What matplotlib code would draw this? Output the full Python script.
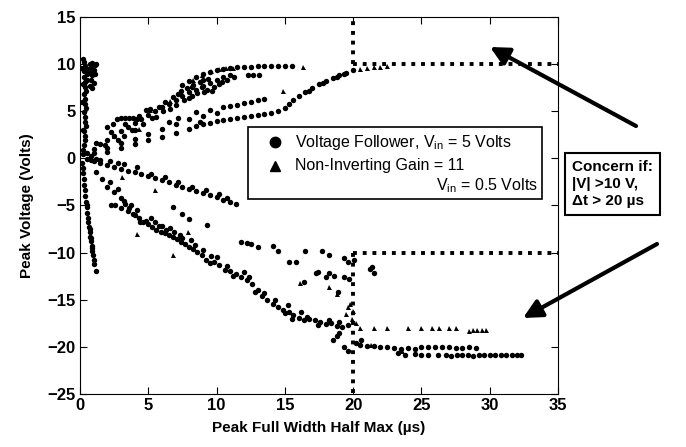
import matplotlib
matplotlib.use('Agg')
import matplotlib.pyplot as plt
from matplotlib.patches import Rectangle

plt.rcParams['font.family'] = ['Liberation Sans', 'DejaVu Sans']

# Voltage follower (circles): (fwhm us, peak volts)
vf_x = [0.2, 0.3, 0.4, 0.3, 0.5, 0.3, 0.4, 0.35, 0.45, 0.3, 0.4, 0.35, 0.45, 0.3, 0.4, 0.35, 0.45, 0.3, 0.4, 0.35, 0.3, 0.25, 0.2,
        0.7, 0.9, 1.1, 0.8, 1.0, 0.7, 0.9, 1.1, 0.8, 1.0, 0.7, 0.9, 1.2,
        0.15, 0.2, 0.25, 0.3, 0.3, 0.35, 0.4, 0.45, 0.5, 0.55, 0.6, 0.6, 0.65, 0.7, 0.75, 0.8, 0.85, 0.9, 0.95, 1.0, 1.05, 1.2, 0.5, 0.7, 0.8, 0.9,
        0.5, 1, 1.5, 2, 2.5, 3, 3.5, 4, 4.5, 5, 5.5, 6, 6.5, 7, 7.5, 8, 8.5, 9, 9.5, 10, 10.5, 11, 7.8, 8.3, 8.8, 9.3, 9.8, 7.2, 6.8, 7.6, 8.2, 9.1, 10.2, 6.2, 5.8, 4.8, 5.3,
        7.5, 8, 8.5, 9, 9.5, 10, 10.5, 11, 11.5, 12, 12.5, 13, 13.5, 14, 14.5, 15, 15.5, 12.3, 12.7, 13.1,
        2.7, 3.0, 3.3, 3.6, 3.9, 4.2, 2.0, 2.4, 3.2, 4.0,
        1, 2, 3, 4, 5, 6, 7, 8, 8.5, 9, 9.5, 10, 10.5, 11, 11.5, 12, 12.5, 13, 13.5, 6.5, 7.2, 8.8,
        0.8, 2, 3, 4, 5, 6, 7, 8, 8.5, 9, 9.5, 10, 10.5, 11, 11.5, 12, 12.5, 13, 13.5, 14, 14.5, 15, 15.3, 15.6, 16, 16.5, 17, 17.5, 18, 18.5, 19, 19.5, 20, 16.8, 17.8, 18.8, 19.3,
        0.5, 1, 1.5, 2, 2.5, 3, 3.5, 4, 4.5, 5, 5.5, 6, 6.5, 7, 7.5, 8, 8.5, 9, 9.5, 10, 10.5, 11, 11.4, 1.2, 2.2, 3.2, 4.2, 0.8,
        1.2, 1.6, 2.0, 2.2, 2.5, 2.8, 3.0, 3.3, 3.6, 3.9, 2.3, 2.6, 3.0, 3.5, 4.0, 4.3, 4.6, 4.8, 5.0, 5.3, 5.6, 5.9, 6.2, 6.5, 6.8, 7.1, 7.4, 7.7, 8.0, 8.3, 8.6, 8.9, 9.2, 9.5, 9.8,
        10.2, 10.6, 11.0, 11.4, 11.8, 12.2, 12.6, 13.0, 13.3, 13.7, 14.1, 14.5, 14.9, 15.3, 15.6, 16.0, 16.4, 16.8, 17.2, 17.6, 18.0, 18.4, 18.8, 19.2, 19.6,
        5.5, 6.0, 6.6, 7.3, 8.1, 10.0, 10.8, 12.0, 15.2, 15.5, 16.2, 12.8,
        20.5, 21, 21.5, 22, 22.5, 23, 23.5, 24, 24.5, 25, 25.5, 26, 26.5, 27, 27.5, 28, 28.5, 29, 23.3, 23.8,
        24.5, 25, 25.5, 26.2, 26.8, 27.2, 27.6, 28, 28.4, 28.8, 29.2, 29.6, 30.0, 30.4, 30.8, 31.2, 31.6, 32.0, 32.3,
        18.5, 18.8, 19.0, 19.3, 19.6, 20.2, 20.6,
        11.8, 12.2, 12.5, 13.0, 14.1, 14.5, 16.5, 17.7, 18.2, 15.3, 15.8, 17.4, 18.2, 18.6, 19.3, 19.7, 19.6, 19.3, 20.1, 21.2, 21.4, 21.5, 17.3, 18.0, 16.4, 18.9, 6.8, 7.5, 8.0, 9.3]
vf_y = [10.5, 10.2, 9.8, 9.3, 9.0, 8.6, 8.1, 7.6, 7.2, 6.8, 6.3, 5.8, 5.3, 4.9, 4.4, 3.9, 3.4, 2.9, 2.4, 1.9, 1.4, 0.9, 0.5,
        10.0, 10.1, 9.9, 9.6, 9.4, 9.1, 8.8, 9.0, 8.3, 8.0, 7.7, 7.5, 10.0,
        -0.5, -1.0, -1.6, -2.2, -2.8, -3.4, -4.0, -4.6, -5.2, -5.8, -6.3, -6.8, -7.3, -7.8, -8.3, -8.8, -9.3, -9.8, -10.3, -10.8, -11.2, -11.9, -4.9, -7.5, -8.5, -9.5,
        0.6, 1.0, 1.5, 2.0, 2.4, 2.9, 3.3, 3.8, 4.2, 4.6, 5.0, 5.4, 5.8, 6.2, 6.6, 7.0, 7.3, 7.7, 8.0, 8.3, 8.6, 8.8, 7.5, 7.8, 8.1, 7.3, 7.6, 6.8, 6.5, 6.2, 6.6, 7.0, 7.9, 6.0, 5.5, 5.1, 4.3,
        7.8, 8.2, 8.6, 9.0, 9.2, 9.4, 9.5, 9.6, 9.65, 9.7, 9.7, 9.75, 9.75, 9.8, 9.8, 9.8, 9.75, 8.8, 8.8, 8.8,
        4.2, 4.25, 4.25, 4.3, 4.25, 4.2, 3.3, 3.6, 2.4, 3.0,
        0.6, 1.1, 1.6, 2.1, 2.6, 3.1, 3.6, 4.2, 4.9, 4.5, 5.1, 4.8, 5.4, 5.6, 5.7, 5.9, 6.0, 6.2, 6.3, 3.9, 4.3, 3.9,
        0.2, 0.7, 1.1, 1.5, 1.9, 2.3, 2.7, 3.1, 3.4, 3.6, 3.8, 4.0, 4.1, 4.2, 4.3, 4.4, 4.5, 4.6, 4.7, 4.8, 5.0, 5.3, 5.8, 6.2, 6.6, 7.0, 7.5, 7.9, 8.2, 8.5, 8.8, 9.1, 9.4, 7.1, 8.0, 8.6, 9.0,
        -0.1, -0.3, -0.5, -0.7, -0.9, -1.1, -1.3, -1.5, -1.7, -1.9, -2.1, -2.3, -2.5, -2.8, -3.0, -3.3, -3.5, -3.7, -3.9, -4.1, -4.4, -4.6, -4.8, -0.1, -0.3, -0.6, -0.9, -0.2,
        -1.5, -2.2, -3.0, -2.5, -3.6, -3.2, -4.2, -4.8, -5.3, -5.9, -4.9, -5.0, -5.3, -5.6, -6.0, -6.3, -6.8, -6.6, -7.0, -7.3, -7.6, -7.8, -7.9, -8.1, -8.3, -8.6, -8.9, -9.1, -9.4, -9.6, -9.9, -10.3, -10.8, -11.1, -11.0,
        -11.3, -11.8, -12.0, -12.3, -12.6, -12.9, -13.3, -14.0, -14.6, -15.0, -15.4, -15.8, -16.1, -16.3, -16.6, -16.9, -17.1, -17.0, -17.2, -17.4, -17.6, -17.5, -17.8, -17.9, -17.7,
        -6.8, -7.2, -7.4, -8.1, -8.7, -10.5, -11.4, -12.1, -15.6, -17.0, -16.3, -14.2,
        -19.8, -19.9, -19.9, -20.0, -20.0, -20.1, -20.2, -20.1, -20.2, -20.0, -20.0, -20.0, -20.0, -20.0, -20.1, -20.1, -20.0, -20.1, -20.6, -20.9,
        -20.8, -20.9, -20.85, -20.9, -20.9, -20.95, -20.9, -20.9, -20.9, -20.95, -20.9, -20.9, -20.9, -20.9, -20.9, -20.9, -20.9, -20.9, -20.9,
        -19.3, -18.9, -18.5, -20.0, -20.4, -19.6, -19.3,
        -8.9, -9.0, -9.1, -9.4, -9.3, -9.8, -9.8, -9.8, -10.3, -11.0, -11.0, -12.1, -12.2, -12.5, -12.6, -12.8, -11.0, -10.6, -10.8, -11.7, -11.5, -12.2, -12.2, -12.6, -13.1, -14.2, -5.2, -5.9, -6.4, -7.1]

# extra voltage follower points that thicken the dense bands
vf_more_x = [1.2, 1.8, 2.3, 2.8, 3.3, 3.8, 4.3, 4.6, 5.1, 5.6, 6.1, 6.6, 7.0, 7.4, 8.0, 8.6, 8.9, 9.4, 9.7, 10.4, 10.8, 11.3, 9.0, 8.2,
             3.2, 3.7, 4.2, 4.4, 5.2, 5.8, 6.3, 6.9, 7.5, 8.4, 9.0, 9.6, 11.2, 12.4, 13.5, 14.3, 15.0, 16.6, 17.4, 18.2, 19.0,
             0.1, 0.2, 0.15, 0.2, 0.5, 0.55,
             1.5, 2.8, 5.2, 6.2, 7.2, 8.2, 9.2, 10.2, 10.8]
vf_more_y = [1.6, 1.4, 2.8, 2.0, 3.6, 3.0, 4.5, 3.6, 5.2, 4.4, 5.0, 5.2, 5.7, 7.2, 6.4, 6.9, 7.6, 8.4, 7.1, 8.1, 8.3, 8.6, 8.3, 7.6,
             -4.5, -5.0, -5.5, -6.8, -6.3, -7.2, -7.6, -7.8, -8.4, -9.2, -9.7, -10.4, -12.5, -12.6, -14.3, -15.0, -16.4, -16.8, -17.7, -17.2, -17.4,
             9.6, 7.9, 6.0, 3.0, 9.5, 8.3,
             -0.2, -0.5, -1.7, -2.0, -2.5, -3.0, -3.4, -3.8, -4.2]

# Non-inverting gain = 11 (triangles)
ni_x = [8.3, 8.9, 9.6, 10.2, 10.7, 5.1, 6.6, 4.3, 14.9, 16.3, 20.5, 21.0, 21.5, 22.0, 22.5, 2.5, 11.2,
        4.2, 6.8, 3.1, 5.5, 7.9, 16.1, 18.2, 18.8, 19.5, 19.6, 19.8, 20.0, 19.9, 20.2,
        20.5, 21.5, 22.5, 24.0, 25.0, 25.8, 26.3, 27.0, 27.5, 28.5, 28.8, 29.1, 29.4, 29.7, 21.3, 23.6]
ni_y = [8.3, 8.8, 9.3, 9.5, 9.6, 5.1, 6.1, 3.1, 7.2, 9.7, 9.5, 9.6, 9.7, 9.7, 9.8, 2.4, 9.6,
        -8.0, -10.3, -2.0, -3.4, -7.8, -13.2, -13.7, -14.4, -16.5, -15.8, -15.5, -16.2, -17.0, -17.5,
        -18.0, -18.0, -18.0, -18.0, -18.0, -18.0, -18.0, -18.0, -18.0, -18.3, -18.2, -18.2, -18.2, -18.2, -19.8, -20.4]

t_limit = 20
v_limit = 10

fig = plt.figure(figsize=(6.86, 4.47), dpi=100)
ax = fig.add_axes([0.1166, 0.1186, 0.6968, 0.8434])

ax.plot(vf_x + vf_more_x, vf_y + vf_more_y, 'o', color='black', ms=3.9, mew=0, ls='none')
ax.plot(ni_x, ni_y, '^', color='black', ms=3.6, mew=0, ls='none')

dots = dict(color='black', lw=2.8, ls=(0, (1, 1.5)))
ax.plot([t_limit, t_limit], [v_limit, 15], **dots)
ax.plot([t_limit, 35], [v_limit, v_limit], **dots)
ax.plot([t_limit, t_limit], [-v_limit, -25], **dots)
ax.plot([t_limit, 35], [-v_limit, -v_limit], **dots)

ax.set_xlim(0, 35)
ax.set_ylim(-25, 15)
ax.set_xticks(range(0, 36, 5))
ax.set_yticks(range(-25, 16, 5))
ax.tick_params(direction='in', top=True, right=True, length=5, width=0.8, labelsize=12, pad=3)
for lab in ax.get_xticklabels() + ax.get_yticklabels():
    lab.set_fontweight('bold')
for s in ax.spines.values():
    s.set_linewidth(0.8)

ax.set_xlabel('Peak Full Width Half Max (\u00b5s)', fontsize=11, fontweight='bold', labelpad=6)
ax.set_ylabel('Peak Voltage (Volts)', fontsize=11, fontweight='bold', labelpad=10)

# legend box drawn by hand
ax.add_patch(Rectangle((0.3515, 0.517), 0.615, 0.191, transform=ax.transAxes,
                       fc='white', ec='black', lw=1.2, zorder=5))
ax.plot([0.408], [0.668], 'o', color='black', ms=7.5, transform=ax.transAxes, zorder=6, clip_on=False)
ax.plot([0.408], [0.605], '^', color='black', ms=7, transform=ax.transAxes, zorder=6, clip_on=False)
ax.text(0.45, 0.668, 'Voltage Follower, V$_{\\mathregular{in}}$ = 5 Volts', transform=ax.transAxes,
        fontsize=11.5, va='center', ha='left', zorder=6)
ax.text(0.45, 0.605, 'Non-Inverting Gain = 11', transform=ax.transAxes,
        fontsize=11.5, va='center', ha='left', zorder=6)
ax.text(0.958, 0.552, 'V$_{\\mathregular{in}}$ = 0.5 Volts', transform=ax.transAxes,
        fontsize=11.5, va='center', ha='right', zorder=6)

fig.text(572 / 686, 1 - 184 / 447, 'Concern if:\n|V| >10 V,\n\u0394t > 20 \u00b5s', fontsize=11,
         fontweight='bold', va='center', ha='left', linespacing=1.25,
         bbox=dict(boxstyle='square,pad=0.45', fc='white', ec='black', lw=1.5))

arrow = dict(arrowstyle='-|>', lw=3, mutation_scale=28, color='black', shrinkA=0, shrinkB=0)
ax.annotate('', xy=(490, 447 - 47), xytext=(636, 447 - 126), xycoords='figure pixels',
            textcoords='figure pixels', arrowprops=arrow, annotation_clip=False)
ax.annotate('', xy=(523, 447 - 318), xytext=(657, 447 - 244), xycoords='figure pixels',
            textcoords='figure pixels', arrowprops=arrow, annotation_clip=False)

fig.savefig('out.png', dpi=100)
